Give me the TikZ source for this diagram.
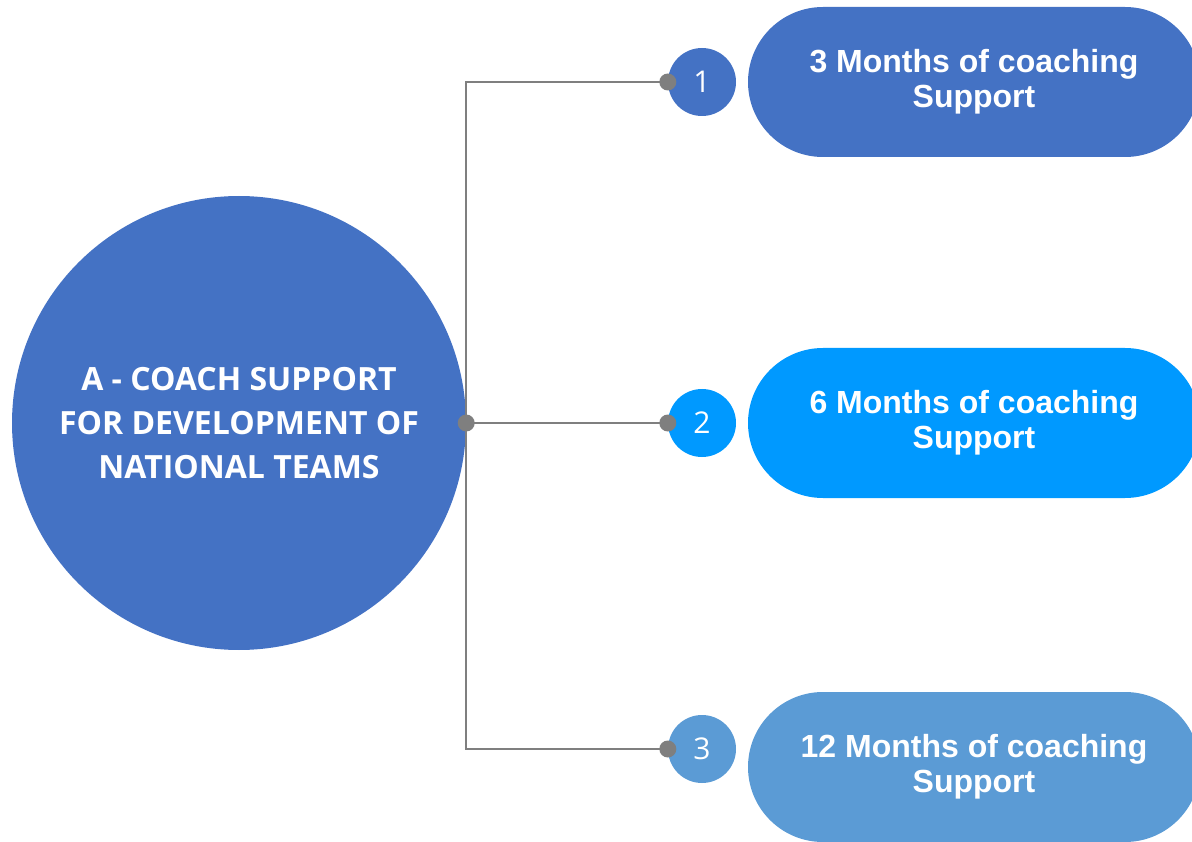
\documentclass[tikz,border=0pt]{standalone}
\usepackage{fontspec}
\setmainfont{Liberation Sans}
\newfontfamily\headfont{Open Sans}
\usetikzlibrary{positioning}
\definecolor{blueA}{HTML}{4472C4}
\definecolor{blueB}{HTML}{0099FF}
\definecolor{blueC}{HTML}{5B9BD5}
\definecolor{linegray}{HTML}{7F7F7F}

\begin{document}
\begin{tikzpicture}[x=1pt,y=-1pt,
  pill/.style={rounded corners=75pt, minimum width=452pt, minimum height=150pt,
    text=white, align=center, font=\fontsize{32}{35}\selectfont\bfseries},
  num/.style={circle, minimum size=68pt, inner sep=0pt, text=white,
    font=\headfont\fontsize{30}{30}\selectfont},
  dot/.style={circle, fill=linegray, minimum size=17pt, inner sep=0pt},
  link/.style={draw=linegray, line width=2pt}]
\useasboundingbox (0,0) rectangle (1192,842);
\clip (0,0) rectangle (1192,842);

\node[circle, fill=blueA, minimum size=454pt, inner sep=0pt, text=white, align=center,
  font=\headfont\bfseries\fontsize{32}{44}\selectfont] (main) at (239,423)
  {A - COACH SUPPORT\\FOR DEVELOPMENT OF\\NATIONAL TEAMS};
\coordinate (hub) at (main.east);

\foreach \i/\c/\y/\yp/\m in {1/blueA/82/82/3, 2/blueB/423/423/6, 3/blueC/749/767/12}{
  \node[pill, fill=\c] (p\i) at (974,\yp) {\m\ Months of coaching\\Support};
  \node[num, fill=\c] (n\i) at (702,\y) {\i};
}

\draw[link] (n1.west) -| (hub) |- (n3.west);
\draw[link] (hub) -- (n2.west);

\node[dot] (hubdot) at (hub) {};
\foreach \i in {1,2,3}
  \node[dot] (d\i) at (n\i.west) {};

\end{tikzpicture}
\end{document}
